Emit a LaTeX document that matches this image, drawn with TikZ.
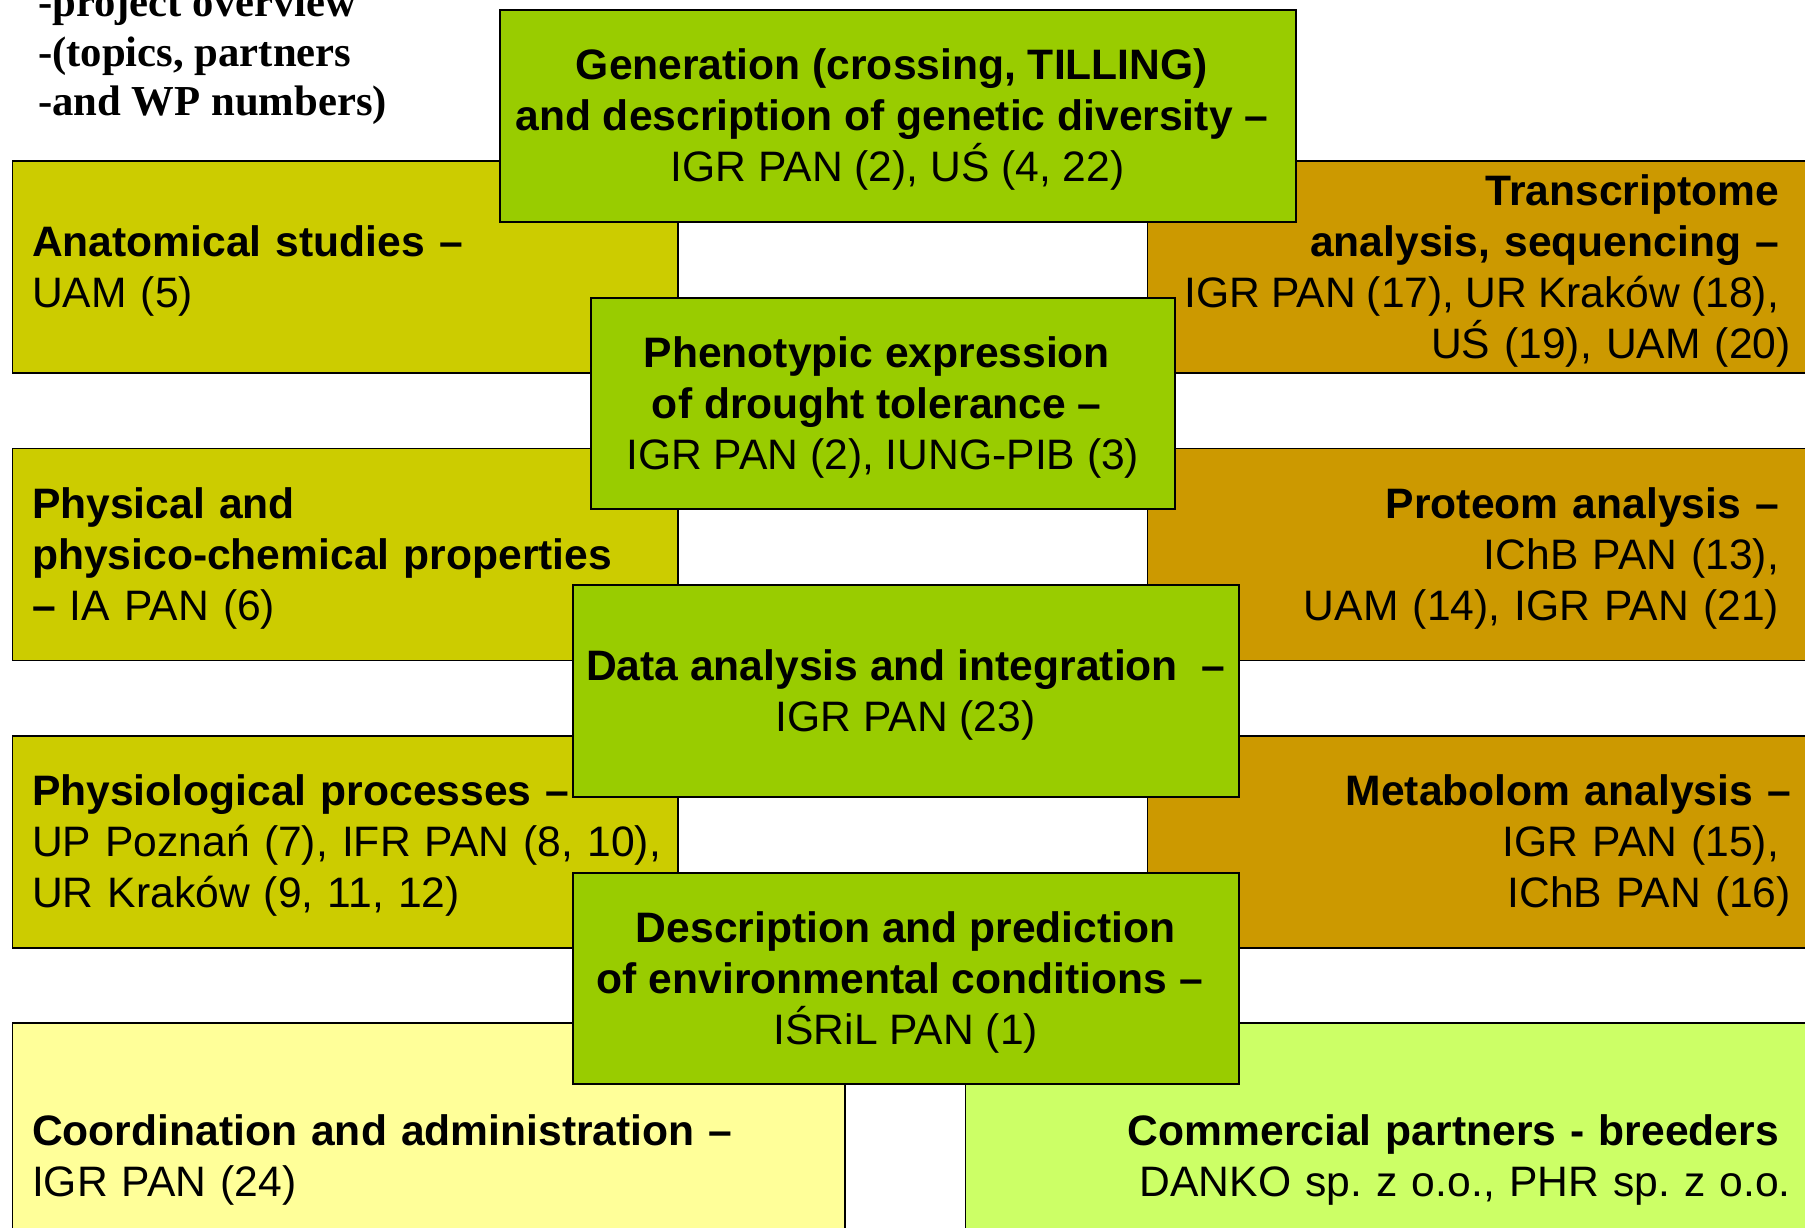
\documentclass[tikz,border=0pt]{standalone}
\usepackage{fontspec}
\setmainfont{Liberation Sans}
\newfontfamily\titlefont{Liberation Serif}
\definecolor{olivebox}{RGB}{204,204,0}
\definecolor{goldbox}{RGB}{204,153,0}
\definecolor{greenbox}{RGB}{153,204,0}
\definecolor{paleyellow}{RGB}{255,255,153}
\definecolor{palelime}{RGB}{204,255,102}
\newcommand\trailsp{\rule{0.278em}{0pt}}
\newcommand\topstrut{\rule{0pt}{43pt}}
\newcommand\botstrut{\rule[-13.4pt]{0pt}{0pt}}
\frenchspacing
\tikzset{
  box/.style={draw=black, line width=1.6pt, rectangle, inner xsep=0pt, inner ysep=0pt,
    anchor=north west, text=black, font=\frenchspacing\fontsize{42.6pt}{51pt}\selectfont},
  lbox/.style={box, fill=olivebox, minimum width=665.5pt, minimum height=212pt,
    text width=626pt, align=left},
  rbox/.style={box, fill=goldbox, minimum width=665.5pt, minimum height=212pt,
    text width=621.5pt, align=right},
  gbox/.style={box, fill=greenbox, line width=2pt, align=center},
  titletext/.style={anchor=base west, inner sep=0pt, text=black,
    font=\titlefont\bfseries\fontsize{42.7pt}{50.7pt}\selectfont},
}
\begin{document}
\begin{tikzpicture}[x=1pt,y=-1pt]
\useasboundingbox (0,0) rectangle (1805,1228);
\clip (0,0) rectangle (1805,1228);
\fill[white] (0,0) rectangle (1805,1228);

% title
\node[titletext] (t1) at (38,16.6) {-project overview};
\node[titletext] (t2) at (38,66.3) {-(topics, partners};
\node[titletext] (t3) at (38,116) {-and WP numbers)};

% left column
\node[lbox] (anat) at (11.5,160) {\topstrut\textbf{Anatomical studies –}\\UAM (5)\botstrut};
\node[lbox] (phys) at (11.5,447.5) {\topstrut\textbf{Physical and}\\\textbf{physico-chemical properties}\\\textbf{–} IA PAN (6)\botstrut};
\node[lbox] (physio) at (11.5,735) {\topstrut\textbf{Physiological processes –}\\\mbox{UP Poznań (7), IFR PAN (8, 10),}\\UR Kraków (9, 11, 12)\botstrut};

% right column
\node[rbox] (trans) at (1146.5,160) {\topstrut\textbf{Transcriptome}\trailsp\\\textbf{analysis, sequencing –}\trailsp\\\makebox[0pt][r]{\spaceskip=11.1pt IGR PAN (17), UR Kraków (18),\trailsp}\\UŚ (19), UAM (20)\botstrut};
\node[rbox] (prot) at (1146.5,447.5) {\topstrut\textbf{Proteom analysis –}\trailsp\\IChB PAN (13),\trailsp\\UAM (14), IGR PAN (21)\trailsp\botstrut};
\node[rbox] (metab) at (1146.5,735) {\topstrut\textbf{Metabolom analysis –}\\IGR PAN (15),\trailsp\\IChB PAN (16)\botstrut};

% bottom boxes
\node[box, fill=paleyellow, minimum width=832.5pt, minimum height=266pt,
  text width=793pt, align=left] (coord) at (11.5,1022) {\topstrut\textbf{Coordination and administration –}\\IGR PAN (24)\botstrut};
\node[box, fill=palelime, minimum width=847.5pt, minimum height=266pt,
  text width=803.5pt, align=right] (comm) at (964.5,1022) {\topstrut\textbf{Commercial partners - breeders}\trailsp\\DANKO sp. z o.o., PHR sp. z o.o.\botstrut};

% central green boxes
\node[gbox, minimum width=796.5pt, minimum height=211.5pt] (gen) at (498.5,9)
  {\topstrut\textbf{Generation (crossing, TILLING)}\trailsp\\\textbf{and description of genetic diversity –}\trailsp\\IGR PAN (2), UŚ (4, 22)\botstrut};
\node[gbox, minimum width=584.5pt, minimum height=211.5pt] (pheno) at (589.5,296.5)
  {\topstrut\textbf{Phenotypic expression}\trailsp\\\textbf{of drought tolerance –}\trailsp\\IGR PAN (2), IUNG-PIB (3)\botstrut};
\node[gbox, minimum width=665.5pt, minimum height=211.5pt] (data) at (572,584)
  {\topstrut\textbf{Data analysis and integration\ \ –}\\IGR PAN (23)\botstrut};
\node[gbox, minimum width=665.5pt, minimum height=211.5pt] (env) at (572,871.5)
  {\topstrut\textbf{Description and prediction}\\\textbf{of environmental conditions –}\trailsp\\IŚRiL PAN (1)\botstrut};
\end{tikzpicture}
\end{document}
